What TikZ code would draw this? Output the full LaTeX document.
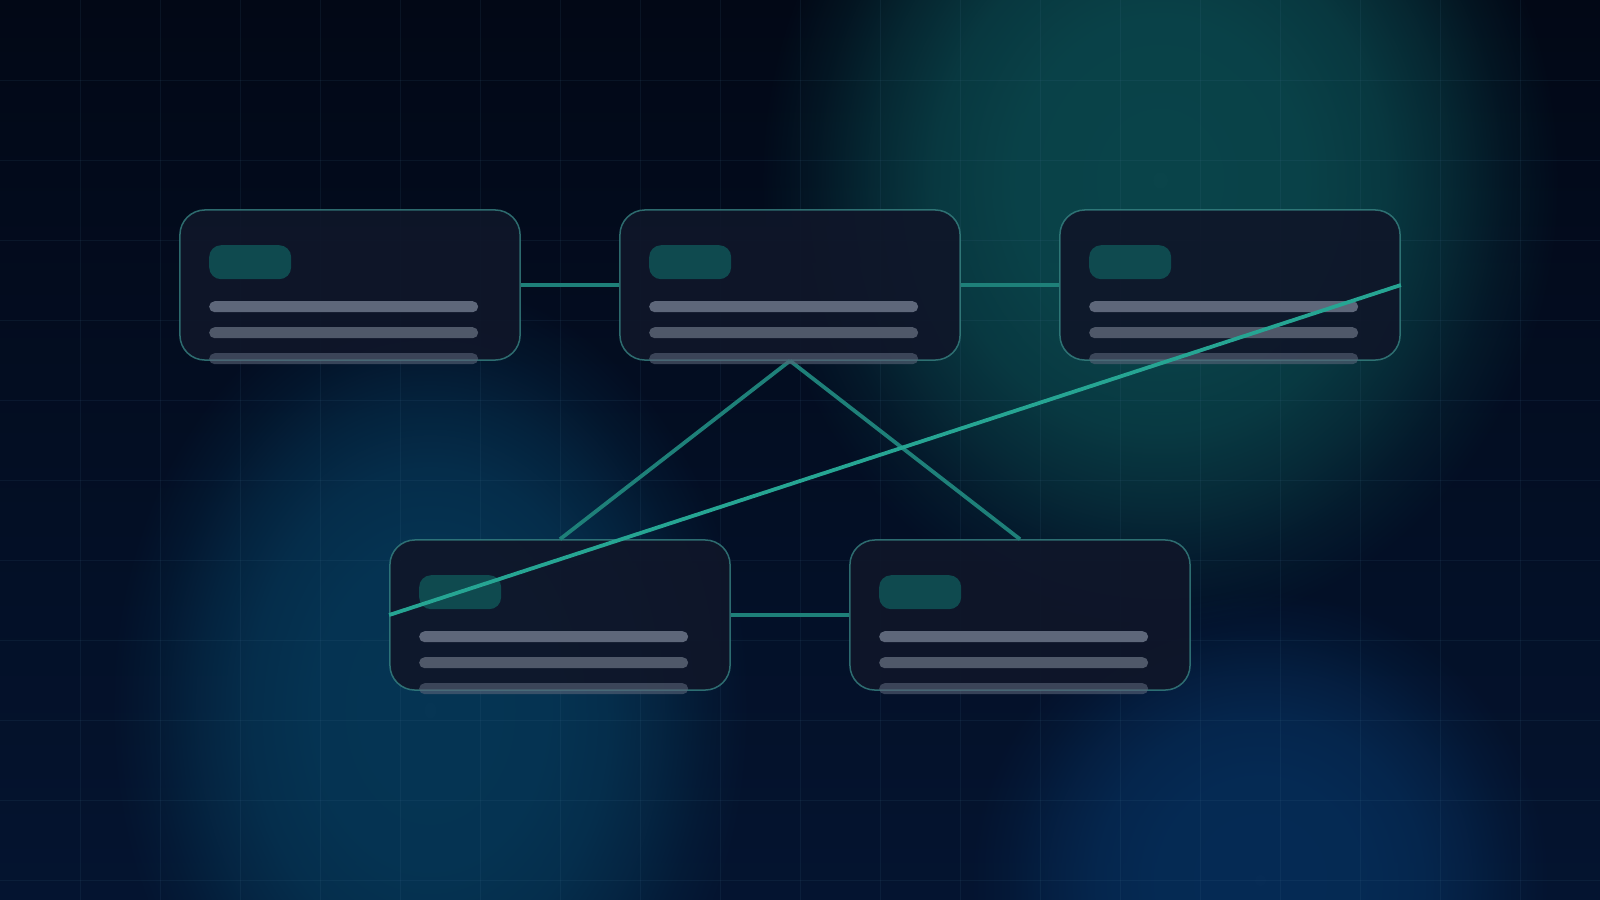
\documentclass[tikz,border=0pt]{standalone}
\usetikzlibrary{fadings,calc}
\pgfdeclareradialshading{glowshade}{\pgfpointorigin}{%
  color(0bp)=(white); color(9bp)=(white!96!black); color(14bp)=(white!80!black);
  color(18bp)=(white!52!black); color(21.5bp)=(white!22!black); color(25bp)=(black); color(50bp)=(black)}
\pgfdeclarefading{plateau}{\pgfuseshading{glowshade}}
\definecolor{bgtop}{HTML}{020816}
\definecolor{bgbot}{HTML}{041430}
\definecolor{glowteal}{HTML}{0A444A}
\definecolor{glowblue}{HTML}{063554}
\definecolor{glowblue2}{HTML}{062B55}
\definecolor{gridc}{HTML}{4A7A9A}
\definecolor{cardfill}{HTML}{0F1629}
\definecolor{cardborder}{HTML}{3A8A88}
\definecolor{pillc}{HTML}{0F4A4F}
\definecolor{barA}{HTML}{5E677A}
\definecolor{barB}{HTML}{4F5869}
\definecolor{barC}{HTML}{5A6478}
\definecolor{connc}{HTML}{1E8079}
\definecolor{longc}{HTML}{26A593}
\tikzset{
  card/.style={rectangle, rounded corners=0.25cm, minimum width=3.4cm, minimum height=1.5cm,
    inner sep=0pt, fill=cardfill, fill opacity=0.92, draw=cardborder, draw opacity=0.75,
    line width=0.015cm},
  conn/.style={draw=connc, line width=0.038cm},
  longconn/.style={draw=longc, line width=0.038cm},
  gridline/.style={draw=gridc, draw opacity=0.11, line width=0.01cm},
  pill/.style={fill=pillc, rounded corners=0.12cm},
  barone/.style={fill=barA, rounded corners=0.055cm},
  bartwo/.style={fill=barB, rounded corners=0.055cm},
  barthree/.style={fill=barC, fill opacity=0.6, rounded corners=0.055cm}
}
\newcommand\cardbits[1]{%
  \fill[pill] ($(#1.north west)+(30,36)$) rectangle ++(82,34);
  \fill[barone] ($(#1.north west)+(30,92)$) rectangle ++(269,11);
  \fill[bartwo] ($(#1.north west)+(30,118)$) rectangle ++(269,11);
  \fill[barthree] ($(#1.north west)+(30,144)$) rectangle ++(269,11);
}
\begin{document}
\begin{tikzpicture}[x=0.01cm,y=-0.01cm]
\useasboundingbox (0,0) rectangle (1600,900);
\shade[top color=bgtop, bottom color=bgbot] (0,0) rectangle (1600,900);
\begin{scope}
  \clip (0,0) rectangle (1600,900);
  \fill[glowteal, path fading=plateau] (1160,180) ellipse [x radius=400, y radius=450];
  \fill[glowblue, path fading=plateau] (430,710) ellipse [x radius=320, y radius=430];
  \fill[glowblue2, path fading=plateau] (1260,880) ellipse [x radius=290, y radius=290];
  \foreach \i in {80,160,...,1520} \draw[gridline] (\i,0) -- (\i,900);
  \foreach \j in {80,160,...,880} \draw[gridline] (0,\j) -- (1600,\j);
\end{scope}

\coordinate (p1) at (350,285);
\coordinate (p2) at (790,285);
\coordinate (p3) at (1230,285);
\coordinate (p4) at (560,615);
\coordinate (p5) at (1020,615);

\node[card] (b1) at (p1) {};
\node[card] (b2) at (p2) {};
\node[card] (b3) at (p3) {};
\node[card] (b4) at (p4) {};
\node[card] (b5) at (p5) {};

\draw[conn] (b1.east) -- (b2.west);
\draw[conn] (b2.east) -- (b3.west);
\draw[conn] (b4.east) -- (b5.west);
\draw[conn] (b2.south) -- (b4.north);
\draw[conn] (b2.south) -- (b5.north);

\cardbits{b1}
\cardbits{b2}
\cardbits{b3}
\cardbits{b4}
\cardbits{b5}

\draw[longconn] (b4.west) -- (b3.east);
\end{tikzpicture}
\end{document}
